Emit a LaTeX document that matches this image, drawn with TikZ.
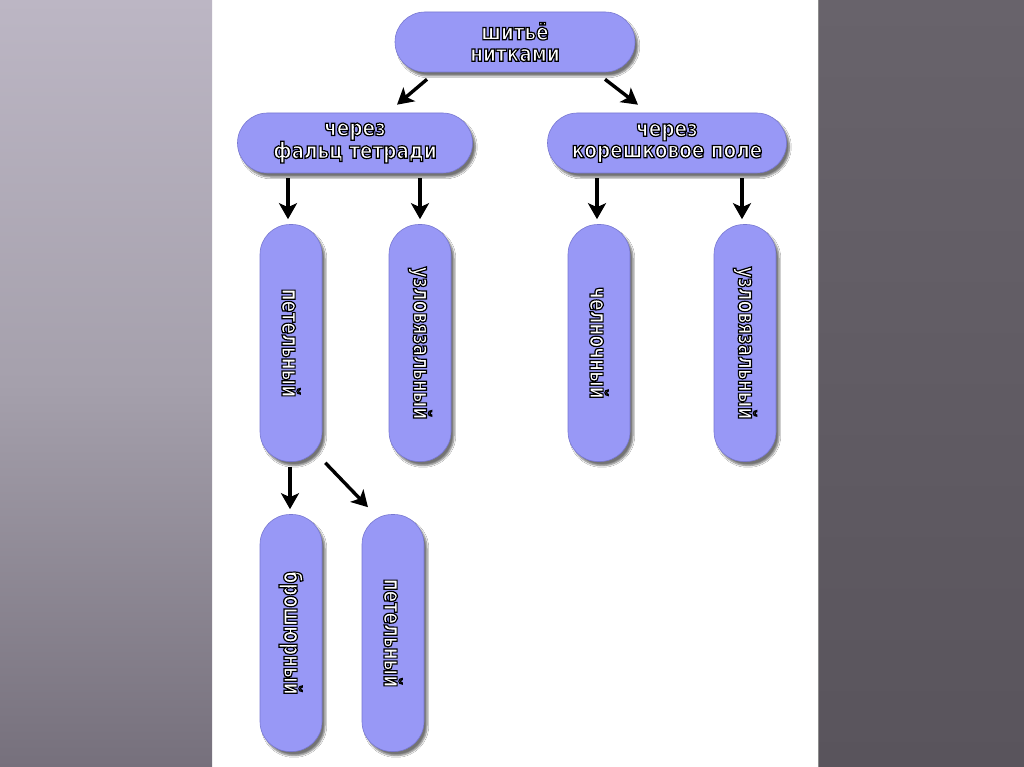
\documentclass[tikz,border=0pt]{standalone}
\usepackage{fontspec}
\usetikzlibrary{arrows.meta,shadows.blur}
\newfontfamily\pillfont[FakeStretch=0.72,BoldFont={DejaVu Sans Bold}]{DejaVu Sans}
\newfontfamily\hpillfont[FakeStretch=0.82,BoldFont={DejaVu Sans Bold}]{DejaVu Sans}
\definecolor{pill}{RGB}{152,152,246}
\definecolor{pilledge}{RGB}{120,120,210}
\definecolor{lefttop}{RGB}{188,182,196}
\definecolor{leftmid}{RGB}{165,160,172}
\definecolor{leftbot}{RGB}{118,112,124}
\definecolor{righttop}{RGB}{104,99,107}
\definecolor{rightbot}{RGB}{89,84,92}
\newcommand{\pt}[1]{\textcolor{white}{\special{pdf:code 2 Tr 0 G 1.2 w}#1\special{pdf:code 0 Tr}}}
\tikzset{
  hpill/.style={rectangle, rounded corners=30pt, fill=pill, draw=pilledge, line width=0.6pt,
    minimum height=60pt, inner sep=0pt, align=center,
    font=\hpillfont\bfseries\fontsize{22.5}{21.5}\selectfont,
    blur shadow={shadow xshift=3pt, shadow yshift=-4pt, shadow blur steps=6, shadow opacity=55}},
  vpill/.style={rectangle, rounded corners=30pt, fill=pill, draw=pilledge, line width=0.6pt,
    minimum width=62pt, minimum height=237pt, inner sep=0pt,
    blur shadow={shadow xshift=3pt, shadow yshift=-4pt, shadow blur steps=6, shadow opacity=55}},
  vtext/.style={rotate=-90, font=\pillfont\bfseries\fontsize{24}{19}\selectfont, inner sep=0pt},
  arr/.style={-{Stealth[length=16pt,width=18pt,inset=4pt]}, line width=3.4pt, black}
}
\begin{document}
\begin{tikzpicture}[x=1pt,y=-1pt]
\useasboundingbox (0,0) rectangle (1024,767);
% background panels
\fill[white] (0,0) rectangle (1024,767);
\shade[top color=lefttop, bottom color=leftbot, middle color=leftmid] (0,0) rectangle (212,767);
\shade[top color=righttop, bottom color=rightbot] (818,0) rectangle (1024,767);
\draw[line width=1pt, color=black!45] (818.5,0) -- (818.5,767);

% pills
\node[hpill, minimum width=240pt] (top) at (515,42) {\pt{шитьё}\\\pt{нитками}};
\node[hpill, minimum width=235pt] (fal) at (355,143) {\pt{через}\\\pt{фальц тетради}};
\node[hpill, minimum width=239pt] (kor) at (667,143) {\pt{через}\\\pt{корешковое поле}};

\node[vpill] (pet1) at (291,343) {};
\node[vtext] at (pet1.center) {\pt{петельный}};
\node[vpill] (uz1) at (420,343) {};
\node[vtext] at (uz1.center) {\pt{узловязальный}};
\node[vpill] (chel) at (599,343) {};
\node[vtext] at (chel.center) {\pt{челночный}};
\node[vpill] (uz2) at (745,343) {};
\node[vtext] at (uz2.center) {\pt{узловязальный}};

\node[vpill] (bro) at (291,633) {};
\node[vtext] at (bro.center) {\pt{брошюрный}};
\node[vpill] (pet2) at (393,633) {};
\node[vtext] at (pet2.center) {\pt{петельный}};

% connectors
\draw[arr] ([xshift=-88pt,yshift=-7pt]top.south) -- ([xshift=42pt,yshift=8pt]fal.north);
\draw[arr] ([xshift=90pt,yshift=-7pt]top.south) -- ([xshift=-29pt,yshift=8pt]kor.north);
\draw[arr] ([xshift=-3pt,yshift=-5pt]pet1.north |- fal.south) -- ([xshift=-3pt,yshift=5pt]pet1.north);
\draw[arr] ([yshift=-5pt]uz1.north |- fal.south) -- ([yshift=5pt]uz1.north);
\draw[arr] ([xshift=-2pt,yshift=-5pt]chel.north |- kor.south) -- ([xshift=-2pt,yshift=5pt]chel.north);
\draw[arr] ([xshift=-3pt,yshift=-5pt]uz2.north |- kor.south) -- ([xshift=-3pt,yshift=5pt]uz2.north);
\draw[arr] ([xshift=-1pt,yshift=-5pt]pet1.south) -- ([xshift=-1pt,yshift=5pt]bro.north);
\draw[arr] ([xshift=3pt,yshift=-1pt]pet1.south east) -- ([xshift=-25pt,yshift=7pt]pet2.north);
\end{tikzpicture}
\end{document}
